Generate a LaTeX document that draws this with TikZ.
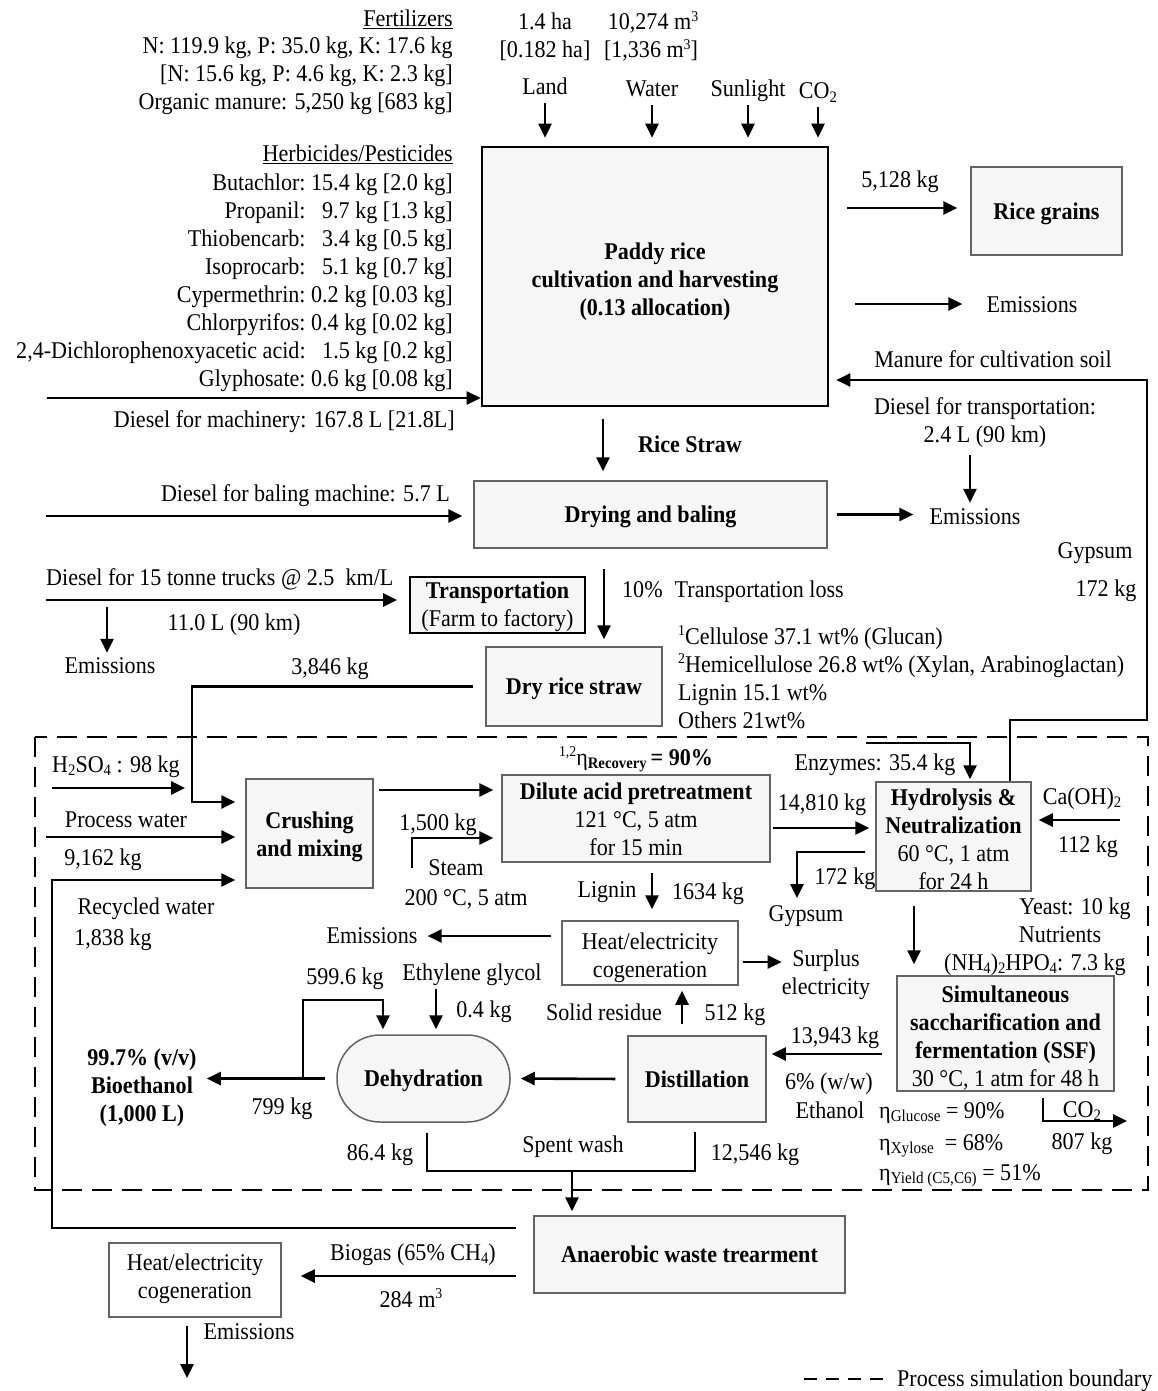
\documentclass[tikz,border=0pt]{standalone}
\usepackage{fontspec}
\setmainfont{Liberation Serif}[FakeStretch=0.92]
\usetikzlibrary{arrows.meta}
\definecolor{boxfill}{RGB}{246,246,246}
\definecolor{boxline}{RGB}{100,100,100}
\newcommand\fs{\fontsize{24}{28}\selectfont}
\newcommand\lsub[1]{\raisebox{-0.35ex}{\fontsize{16}{16}\selectfont #1}}
\newcommand\esub[1]{\raisebox{-0.3ex}{\fontsize{16.5}{16.5}\selectfont #1}}
\newcommand\usup[1]{\raisebox{0.8ex}{\fontsize{15}{15}\selectfont #1}}
\tikzset{
  lbl/.style={font=\fs, inner sep=0pt, text height=20pt, text depth=6pt},
  mlbl/.style={font=\fs, inner sep=0pt, align=center},
  box/.style={draw=boxline, fill=boxfill, line width=1.5pt, inner sep=0pt,
              font=\fs, text height=22pt, text depth=6pt},
  arr/.style={line width=2.6pt, -{Triangle[length=14pt,width=13pt]}},
  ln/.style={line width=2.6pt},
  boundary/.style={line width=2pt, dash pattern=on 20pt off 10pt},
}
\begin{document}
\begin{tikzpicture}[x=1pt,y=-1pt]
\fill[white] (0,0) rectangle (1157,1391);
\useasboundingbox (0,0) rectangle (1157,1391);

% ---------------- process boxes ----------------
\node[box, draw=black, line width=2.6pt, minimum width=346pt, minimum height=259pt] (paddy) at (655,276.5) {};
\node[mlbl, font=\fs\bfseries] (paddyT) at ([yshift=-5pt]paddy.center)
      {Paddy rice\\cultivation and harvesting\\(0.13 allocation)};
\node[box, minimum width=151pt, minimum height=88pt, font=\fs\bfseries] (rice) at (1046.5,211) {Rice grains};
\node[box, minimum width=353pt, minimum height=67pt, font=\fs\bfseries] (drying) at (650.5,514.5) {Drying and baling};
\node[box, draw=black, line width=2pt, minimum width=175pt, minimum height=56pt] (transp) at (497.5,605) {};
\node[mlbl] (transpT) at ([yshift=-2pt]transp.center) {\textbf{Transportation}\\(Farm to factory)};
\node[box, minimum width=176pt, minimum height=79pt, font=\fs\bfseries] (dry) at (574,686.5) {Dry rice straw};
\node[box, minimum width=127pt, minimum height=109pt] (crush) at (309.5,833.5) {};
\node[mlbl, font=\fs\bfseries] (crushT) at ([yshift=-3.5pt]crush.center) {Crushing\\and mixing};
\node[box, minimum width=268pt, minimum height=87pt] (dilute) at (636,818.5) {};
\node[mlbl] (diluteT) at ([yshift=-1pt]dilute.center)
      {\textbf{Dilute acid pretreatment}\\121 °C, 5 atm\\for 15 min};
\node[box, minimum width=155pt, minimum height=109pt] (hydro) at (953.5,836.5) {};
\node[mlbl] (hydroT) at ([yshift=-2.5pt]hydro.center)
      {\textbf{Hydrolysis \&}\\\textbf{Neutralization}\\60 °C, 1 atm\\for 24 h};
\node[box, fill=white, minimum width=176pt, minimum height=64pt] (cogen) at (650,953) {};
\node[mlbl] (cogenT) at ([yshift=-5pt]cogen.center) {Heat/electricity\\cogeneration};
\node[box, minimum width=217pt, minimum height=115pt] (ssf) at (1005.5,1033.5) {};
\node[mlbl] (ssfT) at ([yshift=-4.5pt]ssf.center)
      {\textbf{Simultaneous}\\\textbf{saccharification and}\\\textbf{fermentation (SSF)}\\30 °C, 1 atm for 48 h};
\node[box, minimum width=138pt, minimum height=86pt, font=\fs\bfseries] (distill) at (697,1079) {Distillation};
\node[box, rounded corners=43pt, minimum width=173pt, minimum height=87pt, font=\fs\bfseries] (dehyd) at (423.5,1078.5) {Dehydration};
\node[box, minimum width=311pt, minimum height=77pt, font=\fs\bfseries] (anaer) at (689.5,1254.5) {Anaerobic waste trearment};
\node[box, fill=white, minimum width=172pt, minimum height=74pt] (cogenb) at (195,1280) {};
\node[mlbl] (cogenbT) at ([yshift=1pt]cogenb.center) {Heat/electricity\\cogeneration};

% ---------------- cultivation inputs ----------------
\node[lbl, anchor=east] (fert) at (453,20) {\underline{Fertilizers}};
\node[lbl, anchor=east] (npk) at (453,47) {N: 119.9 kg, P: 35.0 kg, K: 17.6 kg};
\node[lbl, anchor=east] (npka) at (453,75) {[N: 15.6 kg, P: 4.6 kg, K: 2.3 kg]};
\node[lbl, anchor=east] (manure) at (453,103) {Organic manure: 5,250 kg [683 kg]};
\node[lbl, anchor=east] (herbt) at (453,155) {\underline{Herbicides/Pesticides}};
\node[anchor=north east, inner sep=0pt, font=\fs] (herb) at (453,171)
  {\begin{tabular}{@{}r@{\ }r@{}}
   Butachlor: & 15.4 kg [2.0 kg]\\
   Propanil: & 9.7 kg [1.3 kg]\\
   Thiobencarb: & 3.4 kg [0.5 kg]\\
   Isoprocarb: & 5.1 kg [0.7 kg]\\
   Cypermethrin: & 0.2 kg [0.03 kg]\\
   Chlorpyrifos: & 0.4 kg [0.02 kg]\\
   2,4-Dichlorophenoxyacetic acid: & 1.5 kg [0.2 kg]\\
   Glyphosate: & 0.6 kg [0.08 kg]
   \end{tabular}};
\node[lbl, anchor=east] (dmach) at (455,420) {Diesel for machinery: 167.8 L [21.8L]};
\coordinate (dm0) at (47,398);
\draw[arr] (dm0) -- (dm0 -| paddy.west);

\node[lbl] (ha) at (545,23) {1.4 ha};
\node[lbl] (wm) at (653,23) {10,274 m\usup{3}};
\node[lbl] (haa) at (545,51) {[0.182 ha]};
\node[lbl] (wma) at (651,51) {[1,336 m\usup{3}]};
\node[lbl] (land) at (545,88) {Land};
\node[lbl] (water) at (652,90) {Water};
\node[lbl] (sun) at (748,90) {Sunlight};
\node[lbl] (co2in) at (818,92) {CO\lsub{2}};
\foreach \n in {land,water,sun,co2in}
  \draw[arr, shorten <=2pt, shorten >=8pt] (\n.south) -- (\n.south |- paddy.north);

% ---------------- cultivation outputs ----------------
\node[lbl] (grainkg) at (900,180) {5,128 kg};
\coordinate (g0) at (847,208);
\draw[arr, shorten >=13pt] (g0) -- (g0 -| rice.west);
\node[lbl] (emA) at (1032,305) {Emissions};
\coordinate (e0) at (855,304);
\draw[arr, shorten >=24pt] (e0) -- (e0 -| emA.west);

\node[lbl] (manlbl) at (993,360) {Manure for cultivation soil};
\coordinate (m1) at (1147,720);
\coordinate (m2) at (1147,380);
\draw[arr, shorten >=7pt] ([xshift=56.5pt]hydro.north) |- (m1) -- (m2) -- (m2 -| paddy.east);

\node[mlbl] (dtrans) at (985,423) {Diesel for transportation:\\2.4 L (90 km)};
\node[lbl] (emB) at (975,517) {Emissions};
\coordinate (t0) at (970,455);
\draw[arr, shorten >=1pt] (t0) -- (t0 |- emB.north);

\coordinate (rs) at (603,0);
\draw[arr, shorten <=12pt, shorten >=9pt] (paddy.south -| rs) -- (drying.north -| rs);
\node[lbl, font=\fs\bfseries] (strawlbl) at (690,445) {Rice Straw};

% ---------------- drying, transport ----------------
\node[lbl, anchor=east] (dbale) at (450,494) {Diesel for baling machine: 5.7 L};
\coordinate (b0) at (46,516);
\draw[arr, shorten >=11pt] (b0) -- (b0 -| drying.west);
\draw[arr, shorten <=9pt, shorten >=16pt] (drying.east) -- (drying.east -| emB.west);

\node[lbl] (gyps) at (1095,551) {Gypsum};
\node[lbl] (gypkg) at (1106,589) {172 kg};

\coordinate (dx) at (604,0);
\draw[arr, shorten <=20pt, shorten >=7pt] (drying.south -| dx) -- (dry.north -| dx);
\node[lbl, anchor=west] (loss) at (622,590) {10\%\enspace Transportation loss};

\node[lbl, anchor=west] (dtruck) at (46,578) {Diesel for 15 tonne trucks @ 2.5\ \ km/L};
\coordinate (k0) at (46,600);
\draw[arr, shorten >=12pt] (k0) -- (k0 -| transp.west);
\node[lbl] (truckl) at (234,623) {11.0 L (90 km)};
\node[lbl] (emC) at (110,666) {Emissions};
\coordinate (k1) at (107,607);
\draw[arr] (k1) -- (k1 |- emC.north);

\node[font=\fs, inner sep=0pt, align=left, anchor=west] (comp) at (678,677)
  {\usup{1}Cellulose 37.1 wt\% (Glucan)\\
   \usup{2}Hemicellulose 26.8 wt\% (Xylan, Arabinoglactan)\\
   Lignin 15.1 wt\%\\
   Others 21wt\%};

\node[lbl] (strawkg) at (330,667) {3,846 kg};
\coordinate (c2) at (192,802);
\draw[arr, shorten <=12pt, shorten >=10pt] (dry.west) -| (c2) -- (c2 -| crush.west);

% ---------------- process simulation boundary ----------------
\draw[boundary] (35,737) rectangle (1148,1190);

% ---------------- crushing and pretreatment ----------------
\node[lbl] (acid) at (116,765) {H\lsub{2}SO\lsub{4} : 98 kg};
\coordinate (h1) at (52,788);
\coordinate (h2) at (185,788);
\draw[arr] (h1) -- (h2);
\node[lbl] (pw) at (126,820) {Process water};
\node[lbl] (pwkg) at (103,858) {9,162 kg};
\coordinate (p0) at (46,837);
\draw[arr, shorten >=10pt] (p0) -- (p0 -| crush.west);
\node[lbl] (rw) at (146,907) {Recycled water};
\node[lbl] (rwkg) at (113,938) {1,838 kg};
\coordinate (r1) at (52,1228);
\coordinate (r2) at (52,880);
\draw[arr, shorten <=17pt, shorten >=10pt] (r1 -| anaer.west) -- (r1) -- (r2) -- (r2 -| crush.west);

\coordinate (cd) at (0,790);
\draw[arr, shorten <=5pt, shorten >=8pt] (crush.east |- cd) -- (dilute.west |- cd);
\node[lbl] (recov) at (636,758)
  {\usup{1,2}η\lsub{\textbf{Recovery}}\,\textbf{= 90\%}};
\node[lbl] (stkg) at (438,823) {1,500 kg};
\node[lbl] (steam) at (456,868) {Steam};
\node[lbl] (stcond) at (466,898) {200 °C, 5 atm};
\coordinate (s1) at (412,868);
\coordinate (s2) at (412,838);
\draw[arr, shorten >=8pt] (s1) -- (s2) -- (s2 -| dilute.west);

% ---------------- hydrolysis ----------------
\coordinate (dh) at (0,828);
\draw[arr, shorten <=2pt, shorten >=6pt] (dilute.east |- dh) -- (hydro.west |- dh);
\node[lbl] (hkg) at (822,803) {14,810 kg};
\node[lbl] (enz) at (875,763) {Enzymes: 35.4 kg};
\coordinate (en) at (866,743);
\draw[arr, shorten >=2pt] (en) -| ([xshift=16.5pt]hydro.north);
\node[lbl] (caoh) at (1082,797) {Ca(OH)\lsub{2}};
\node[lbl] (cakg) at (1088,845) {112 kg};
\coordinate (ca) at (1120,820);
\draw[arr, shorten >=7pt] (ca) -- (ca -| hydro.east);
\node[lbl] (gykg) at (845,877) {172 kg};
\node[lbl] (gy) at (806,914) {Gypsum};
\coordinate (g1) at (797,852);
\coordinate (g2) at (797,898);
\draw[arr, shorten <=10pt] (g1 -| hydro.west) -- (g1) -- (g2);

% ---------------- lignin and cogeneration ----------------
\coordinate (lg) at (652,0);
\draw[arr, shorten <=10pt, shorten >=11pt] (dilute.south -| lg) -- (cogen.north -| lg);
\node[lbl] (lig) at (607,890) {Lignin};
\node[lbl] (ligkg) at (708,892) {1634 kg};
\node[lbl] (emD) at (372,936) {Emissions};
\coordinate (ce) at (0,936);
\draw[arr, shorten <=10pt] (cogen.west |- ce) -- ([xshift=10pt]emD.east);
\node[mlbl] (surplus) at (826,975) {Surplus\\electricity};
\coordinate (se) at (0,962);
\draw[arr, shorten <=4pt] (cogen.east |- se) -- (surplus.west |- se);

% ---------------- fermentation ----------------
\node[lbl] (yeast) at (1075,907) {Yeast: 10 kg};
\node[lbl] (nutr) at (1060,935) {Nutrients};
\node[lbl] (dap) at (1035,963) {(NH\lsub{4})\lsub{2}HPO\lsub{4}: 7.3 kg};
\coordinate (hs) at (914,0);
\draw[arr, shorten <=14pt, shorten >=11pt] (hydro.south -| hs) -- (ssf.north -| hs);
\node[lbl] (co2out) at (1082,1110) {CO\lsub{2}};
\node[lbl] (co2kg) at (1082,1142) {807 kg};
\coordinate (co) at (1043,0);
\coordinate (co2) at (1127,1121);
\draw[arr, shorten <=6pt] (ssf.south -| co) |- (co2);
\node[lbl, anchor=west] (etag) at (879,1111) {η\esub{Glucose} = 90\%};
\node[lbl, anchor=west] (etax) at (879,1143) {η\esub{Xylose}\ \ = 68\%};
\node[lbl, anchor=west] (etay) at (879,1173) {η\esub{Yield (C5,C6)} = 51\%};

% ---------------- distillation and dehydration ----------------
\coordinate (sd) at (0,1054);
\draw[arr, shorten <=14pt, shorten >=5pt] (ssf.west |- sd) -- (distill.east |- sd);
\node[lbl] (brkg) at (835,1036) {13,943 kg};
\node[lbl] (ww) at (829,1082) {6\% (w/w)};
\node[lbl] (eth) at (830,1111) {Ethanol};
\coordinate (sr) at (682,0);
\draw[arr, shorten <=11pt, shorten >=5pt] (distill.north -| sr) -- (cogen.south -| sr);
\node[lbl] (solid) at (604,1013) {Solid residue};
\node[lbl] (solidkg) at (735,1013) {512 kg};
\draw[arr, shorten <=12pt, shorten >=10pt] (distill.west) -- (dehyd.east);

\node[lbl] (eglyc) at (472,973) {Ethylene glycol};
\node[lbl] (egkg) at (484,1010) {0.4 kg};
\coordinate (eg) at (436,0);
\draw[arr, shorten <=3pt, shorten >=5pt] (eglyc.south -| eg) -- (dehyd.north -| eg);

\node[mlbl, font=\fs\bfseries] (bioeth) at (142,1088) {99.7\% (v/v)\\Bioethanol\\(1,000 L)};
\draw[arr, shorten <=11pt] (dehyd.west) -- ([xshift=10pt]bioeth.east |- dehyd.west);
\node[lbl] (bekg) at (282,1107) {799 kg};
\node[lbl] (rckg) at (345,977) {599.6 kg};
\coordinate (lp) at (303,1078.5);
\coordinate (lp2) at (383,1000);
\draw[arr, shorten >=5pt] (lp) |- (lp2) -- (lp2 |- dehyd.north);

% ---------------- spent wash and waste treatment ----------------
\coordinate (sw1) at (427,1171);
\coordinate (sw2) at (695,1171);
\coordinate (swm) at (572,1171);
\draw[ln, shorten <=10pt, shorten >=9pt] (dehyd.south -| sw1) -- (sw1) -- (sw2) -- (distill.south -| sw2);
\draw[arr, shorten >=4pt] (swm) -- (swm |- anaer.north);
\node[lbl] (swkg1) at (380,1153) {86.4 kg};
\node[lbl] (swl) at (573,1145) {Spent wash};
\node[lbl] (swkg2) at (755,1153) {12,546 kg};

\coordinate (bg) at (0,1276);
\draw[arr, shorten <=17pt, shorten >=19pt] (anaer.west |- bg) -- (cogenb.east |- bg);
\node[lbl] (biogas) at (413,1253) {Biogas (65\% CH\lsub{4})};
\node[lbl] (biom3) at (411,1300) {284 m\usup{3}};
\node[lbl] (emE) at (249,1332) {Emissions};
\coordinate (ce2) at (187,1378);
\draw[arr, shorten <=8pt] (cogenb.south -| ce2) -- (ce2);

% ---------------- legend ----------------
\coordinate (lg1) at (804,1379);
\coordinate (lg2) at (885,1379);
\draw[line width=2pt, dash pattern=on 13pt off 9pt] (lg1) -- (lg2);
\node[lbl, anchor=west] (leg) at (897,1379) {Process simulation boundary};
\end{tikzpicture}
\end{document}
